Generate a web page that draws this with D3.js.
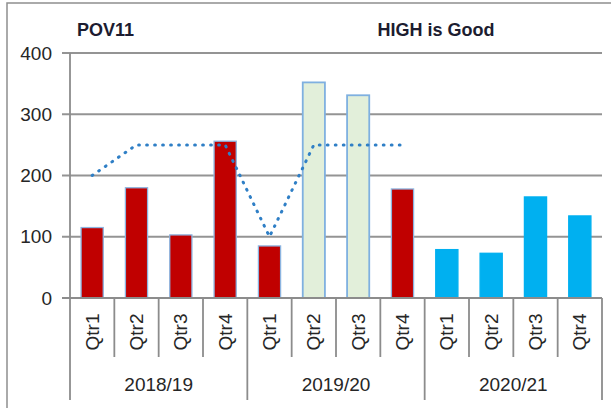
<!DOCTYPE html>
<html>
<head>
<meta charset="utf-8">
<script src="https://cdn.jsdelivr.net/npm/d3@7"></script>
<style>
  body { margin: 0; background: #fff; }
  svg { display: block; font-family: "Liberation Sans", Arial, sans-serif; }
</style>
</head>
<body>
<div class="chart"></div>
<script>
var width = 611
var height = 408

// data
var years = ['2018/19', '2019/20', '2020/21']
var quarters = ['Qtr1', 'Qtr2', 'Qtr3', 'Qtr4']
var values = [115, 180, 103, 256, 85, 352, 331, 178, 79, 73, 165, 134]
var barStatus = ['R', 'R', 'R', 'R', 'R', 'G', 'G', 'R', 'B', 'B', 'B', 'B']
var target = [200, 250, 250, 250, 100, 250, 250, 250, null, null, null, null]
var yTicks = [0, 100, 200, 300, 400]

// plot box ("top"/"status" are window props, so avoid those names)
var plotLeft = 70, plotRight = 602, plotTop = 53, plotBottom = 298

var rows = []
years.forEach(function (yr, i) {
    quarters.forEach(function (q, j) {
        var k = i * 4 + j
        rows.push({ key: k, year: yr, qtr: q, value: values[k], status: barStatus[k], target: target[k] })
    })
})

var svg = d3.select('.chart').append('svg')
    .attr('width', width)
    .attr('height', height)

// outer chart border (right and bottom are cut off in the picture)
svg.append('rect')
    .attr('x', 7).attr('y', 3)
    .attr('width', 700).attr('height', 500)
    .attr('fill', 'none')
    .attr('stroke', '#8f8f8f')
    .attr('stroke-width', 1.5)

var x = d3.scaleBand()
    .domain(rows.map(function (d) { return d.key }))
    .range([plotLeft, plotRight])
    .paddingInner(0.5)
    .paddingOuter(0.25)

var y = d3.scaleLinear().domain([0, 400]).range([plotBottom, plotTop])

var fill = d3.scaleOrdinal().domain(['R', 'G', 'B']).range(['#c00000', '#e2efda', '#00b0f0'])
var edge = d3.scaleOrdinal().domain(['R', 'G', 'B']).range(['#8cb4e0', '#7fb0e0', '#00b0f0'])

// gridlines + y ticks
svg.append('g').selectAll('line')
    .data(yTicks.filter(function (t) { return t > 0 }))
    .enter().append('line')
    .attr('x1', plotLeft - 8).attr('x2', plotRight)
    .attr('y1', function (d) { return y(d) }).attr('y2', function (d) { return y(d) })
    .attr('stroke', '#949494')
    .attr('stroke-width', 1.8)

svg.append('g').selectAll('text')
    .data(yTicks)
    .enter().append('text')
    .attr('x', 52)
    .attr('y', function (d) { return y(d) })
    .attr('dy', '0.35em')
    .attr('text-anchor', 'end')
    .attr('font-size', 19)
    .attr('fill', '#262626')
    .text(function (d) { return d })

// bars
svg.append('g').selectAll('rect')
    .data(rows)
    .enter().append('rect')
    .attr('x', function (d) { return x(d.key) })
    .attr('y', function (d) { return y(d.value) })
    .attr('width', x.bandwidth())
    .attr('height', function (d) { return y(0) - y(d.value) })
    .attr('fill', function (d) { return fill(d.status) })
    .attr('stroke', function (d) { return edge(d.status) })
    .attr('stroke-width', function (d) { return d.status === 'G' ? 1.8 : 1.3 })

// axes
var axisColor = '#8c8c8c'
var step = x.step()
svg.append('line')
    .attr('x1', plotLeft - 8).attr('x2', plotRight)
    .attr('y1', plotBottom).attr('y2', plotBottom)
    .attr('stroke', axisColor).attr('stroke-width', 1.8)
svg.append('line')
    .attr('x1', plotLeft).attr('x2', plotLeft)
    .attr('y1', plotTop).attr('y2', plotBottom)
    .attr('stroke', axisColor).attr('stroke-width', 1.8)

// category separators, longer ones between years
svg.append('g').selectAll('line')
    .data(d3.range(rows.length + 1))
    .enter().append('line')
    .attr('x1', function (i) { return plotLeft + i * step })
    .attr('x2', function (i) { return plotLeft + i * step })
    .attr('y1', plotBottom)
    .attr('y2', function (i) { return i % 4 === 0 ? 400 : 357 })
    .attr('stroke', axisColor).attr('stroke-width', 1.8)

// quarter labels
svg.append('g').selectAll('text')
    .data(rows)
    .enter().append('text')
    .attr('transform', function (d) {
        return 'translate(' + (x(d.key) + x.bandwidth() / 2) + ',332) rotate(-90)'
    })
    .attr('text-anchor', 'middle')
    .attr('dy', '0.35em')
    .attr('font-size', 19)
    .attr('fill', '#262626')
    .text(function (d) { return d.qtr })

// year labels
svg.append('g').selectAll('text')
    .data(years)
    .enter().append('text')
    .attr('x', function (d, i) { return plotLeft + (i * 4 + 2) * step })
    .attr('y', 384)
    .attr('dy', '0.35em')
    .attr('text-anchor', 'middle')
    .attr('font-size', 19)
    .attr('fill', '#262626')
    .text(function (d) { return d })

// dotted target line
var line = d3.line()
    .defined(function (d) { return d.target !== null })
    .x(function (d) { return x(d.key) + x.bandwidth() / 2 })
    .y(function (d) { return y(d.target) })

svg.append('path')
    .datum(rows)
    .attr('d', line)
    .attr('fill', 'none')
    .attr('stroke', '#2f7fc6')
    .attr('stroke-width', 3)
    .attr('stroke-linecap', 'round')
    .attr('stroke-linejoin', 'round')
    .attr('stroke-dasharray', '0.8 7.2')

// titles
svg.append('text')
    .attr('x', 77).attr('y', 36)
    .attr('font-size', 18).attr('font-weight', 'bold')
    .attr('fill', '#1c1c30')
    .text('POV11')

svg.append('text')
    .attr('x', 436).attr('y', 36)
    .attr('text-anchor', 'middle')
    .attr('font-size', 18).attr('font-weight', 'bold')
    .attr('fill', '#1c1c30')
    .text('HIGH is Good')
</script>
</body>
</html>
